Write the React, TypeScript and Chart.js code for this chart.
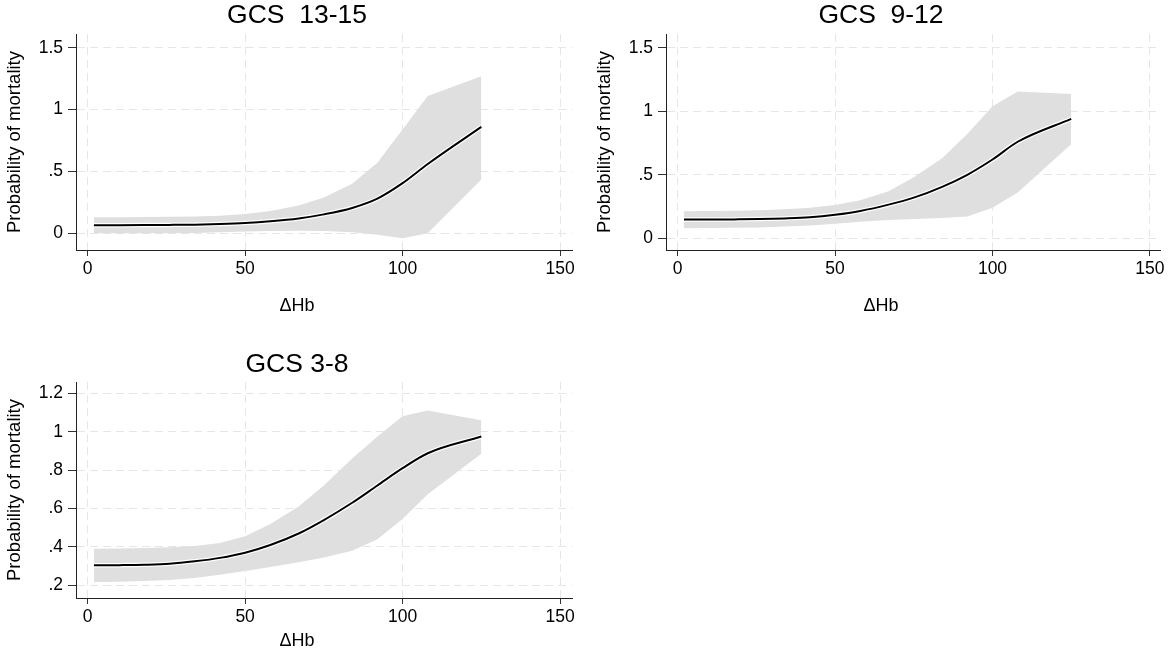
import React, { useEffect, useRef } from "react";
import { Chart, registerables } from "chart.js";

Chart.register(...registerables);

// ---------- data ----------
const dHb = [2, 10, 18, 26, 34, 42, 50, 58, 67, 75, 84, 92, 100, 108, 125];
const xTicks = [0, 50, 100, 150];

const title1 = "GCS  13-15";
const mean1 = [0.065, 0.066, 0.067, 0.068, 0.07, 0.075, 0.083, 0.097, 0.12, 0.153, 0.205, 0.28, 0.405, 0.56, 0.86];
const upper1 = [0.13, 0.13, 0.131, 0.133, 0.136, 0.142, 0.155, 0.18, 0.225, 0.29, 0.4, 0.57, 0.84, 1.11, 1.27];
const lower1 = [0.0, 0.0, 0.0, 0.001, 0.003, 0.008, 0.014, 0.018, 0.02, 0.018, 0.008, -0.012, -0.04, 0.0, 0.435];
const yTicks1 = [0, 0.5, 1, 1.5];

const title2 = "GCS  9-12";
const mean2 = [0.148, 0.148, 0.149, 0.151, 0.156, 0.165, 0.185, 0.215, 0.265, 0.32, 0.405, 0.5, 0.62, 0.76, 0.94];
const upper2 = [0.213, 0.214, 0.216, 0.22, 0.228, 0.24, 0.262, 0.3, 0.37, 0.48, 0.63, 0.82, 1.04, 1.155, 1.135];
const lower2 = [0.08, 0.081, 0.083, 0.086, 0.092, 0.1, 0.115, 0.13, 0.145, 0.152, 0.16, 0.172, 0.24, 0.36, 0.74];
const yTicks2 = [0, 0.5, 1, 1.5];

const title3 = "GCS 3-8";
const mean3 = [0.304, 0.305, 0.307, 0.312, 0.325, 0.343, 0.37, 0.41, 0.47, 0.54, 0.63, 0.72, 0.81, 0.888, 0.975];
const upper3 = [0.39, 0.392, 0.395, 0.398, 0.405, 0.42, 0.455, 0.52, 0.61, 0.72, 0.86, 0.975, 1.08, 1.11, 1.06];
const lower3 = [0.217, 0.218, 0.222, 0.228, 0.238, 0.255, 0.275, 0.295, 0.32, 0.345, 0.38, 0.44, 0.545, 0.675, 0.885];
const yTicks3 = [0.2, 0.4, 0.6, 0.8, 1, 1.2];

const yTitle = "Probability of mortality";
const xTitle = "ΔHb";

// ---------- layout / style ----------
type PanelLayout = {
  left: number; top: number; width: number; height: number;
  padRight: number; padTop: number; padBottom: number;
  cx: number; titleY: number; xTitleY: number;
  yMin: number; yMax: number; xMin: number; xMax: number;
};

const FONT = 'Arial, "Liberation Sans", sans-serif';

function fmt(v: number) {
  const s = String(Math.round(v * 100) / 100);
  return s.replace(/^0\./, ".");
}

function pts(xs: number[], ys: number[]) {
  return xs.map((x, i) => ({ x, y: ys[i] }));
}

const panelText = {
  id: "panelText",
  afterDraw(chart: any, _args: any, opts: any) {
    const ctx = chart.ctx;
    ctx.save();
    ctx.fillStyle = "#000";
    ctx.textAlign = "center";
    ctx.textBaseline = "middle";
    ctx.font = `26.5px ${FONT}`;
    ctx.fillText(opts.title, opts.cx, opts.titleY);
    ctx.font = `18px ${FONT}`;
    ctx.fillText(opts.xTitle, opts.cx, opts.xTitleY);
    ctx.restore();
  },
};

function Panel(props: {
  layout: PanelLayout; title: string; mean: number[]; upper: number[]; lower: number[]; yTicks: number[];
}) {
  const ref = useRef<HTMLCanvasElement | null>(null);
  const { layout: L, title, mean, upper, lower, yTicks } = props;
  useEffect(() => {
    if (!ref.current) return;
    const chart = new Chart(ref.current, {
      type: "line",
      plugins: [panelText as any],
      data: {
        datasets: [
          {
            data: pts(dHb, mean), borderColor: "#000000", borderWidth: 2,
            pointRadius: 0, fill: false, cubicInterpolationMode: "monotone",
          },
          {
            data: pts(dHb, mean), borderColor: "#ffffff", borderWidth: 4.5,
            pointRadius: 0, fill: false, cubicInterpolationMode: "monotone",
          },
          {
            data: pts(dHb, upper), borderWidth: 0, borderColor: "rgba(0,0,0,0)",
            backgroundColor: "#dfdfdf", pointRadius: 0, fill: "+1", tension: 0,
          },
          {
            data: pts(dHb, lower), borderWidth: 0, borderColor: "rgba(0,0,0,0)",
            pointRadius: 0, fill: false, tension: 0,
          },
        ] as any,
      },
      options: {
        animation: false,
        responsive: false,
        devicePixelRatio: 1,
        layout: { padding: { left: 0, right: L.padRight, top: L.padTop, bottom: L.padBottom } },
        plugins: {
          legend: { display: false },
          tooltip: { enabled: false },
          title: { display: false },
          panelText: { title, xTitle, cx: L.cx, titleY: L.titleY, xTitleY: L.xTitleY },
        },
        scales: {
          x: {
            type: "linear", min: L.xMin, max: L.xMax,
            afterBuildTicks: (s: any) => { s.ticks = xTicks.map((v) => ({ value: v })); },
            afterFit: (s: any) => { s.height = 30; },
            ticks: {
              color: "#000", font: { family: FONT, size: 17.5 }, padding: 3,
              maxRotation: 0, autoSkip: false, callback: (v: any) => fmt(Number(v)),
            },
            grid: { color: "#e6e6e6", lineWidth: 1, tickLength: 6, tickColor: "#333", tickWidth: 1, tickBorderDash: [] },
            border: { display: true, color: "#222", width: 1, dash: [8, 5] },
          },
          y: {
            type: "linear", min: L.yMin, max: L.yMax,
            afterBuildTicks: (s: any) => { s.ticks = yTicks.map((v) => ({ value: v })); },
            afterFit: (s: any) => { s.width = 76; },
            ticks: {
              color: "#000", font: { family: FONT, size: 17.5 }, padding: 5,
              autoSkip: false, callback: (v: any) => fmt(Number(v)),
            },
            title: {
              display: true, text: yTitle, color: "#000",
              font: { family: FONT, size: 18.5, lineHeight: 1.2 }, padding: { top: 4, bottom: 0 },
            },
            grid: { color: "#e6e6e6", lineWidth: 1, tickLength: 8, tickColor: "#333", tickWidth: 1, tickBorderDash: [] },
            border: { display: true, color: "#222", width: 1, dash: [8, 5] },
          },
        },
      } as any,
    });
    return () => chart.destroy();
  }, []);
  return (
    <canvas
      ref={ref}
      width={L.width}
      height={L.height}
      style={{ position: "absolute", left: L.left, top: L.top, width: L.width, height: L.height }}
    />
  );
}

const layout1: PanelLayout = {
  left: 0, top: 0, width: 590, height: 320, padRight: 18, padTop: 34, padBottom: 40,
  cx: 297, titleY: 16, xTitleY: 306.5,
  yMin: -0.135, yMax: 1.611, xMin: -3.7, xMax: 153.8,
};
const layout2: PanelLayout = {
  left: 590, top: 0, width: 579, height: 320, padRight: 9, padTop: 34, padBottom: 40,
  cx: 291, titleY: 16, xTitleY: 306.5,
  yMin: -0.092, yMax: 1.608, xMin: -3.7, xMax: 153.2,
};
const layout3: PanelLayout = {
  left: 0, top: 320, width: 590, height: 332, padRight: 18, padTop: 62, padBottom: 24,
  cx: 297, titleY: 45, xTitleY: 321,
  yMin: 0.134, yMax: 1.259, xMin: -3.7, xMax: 153.8,
};

export default function App() {
  return (
    <div style={{ position: "fixed", left: 0, top: 0, width: 1169, height: 652, background: "#fff", overflow: "hidden" }}>
      <Panel layout={layout1} title={title1} mean={mean1} upper={upper1} lower={lower1} yTicks={yTicks1} />
      <Panel layout={layout2} title={title2} mean={mean2} upper={upper2} lower={lower2} yTicks={yTicks2} />
      <Panel layout={layout3} title={title3} mean={mean3} upper={upper3} lower={lower3} yTicks={yTicks3} />
    </div>
  );
}
